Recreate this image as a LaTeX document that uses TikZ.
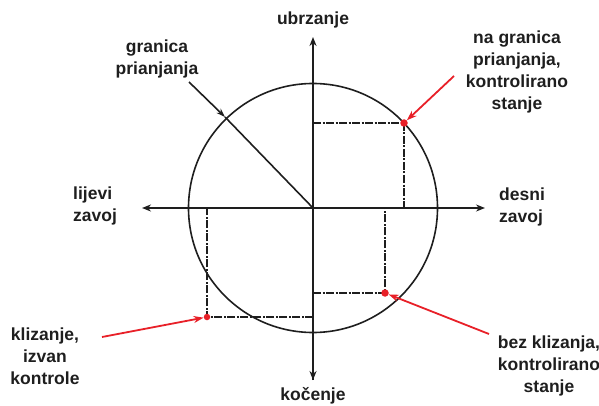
\documentclass[tikz,border=0pt]{standalone}
\usepackage{fontspec}
\setmainfont{Liberation Sans}
\usetikzlibrary{arrows.meta}
\definecolor{myred}{RGB}{232,32,40}
\definecolor{ink}{RGB}{30,30,30}
\begin{document}
\begin{tikzpicture}[x=1pt,y=-1pt,
  lbl/.style={font=\fontsize{17.5}{22}\selectfont\bfseries, text=ink, align=center, inner sep=0pt},
  axis/.style={draw=ink, line width=2pt, -{Stealth[length=9pt,width=7pt]}},
  dashln/.style={draw=ink, line width=2pt, dash pattern=on 8pt off 1.5pt on 2pt off 1.5pt},
  redarr/.style={draw=myred, line width=1.8pt, -{Stealth[length=10pt,width=7pt]}},
  reddot/.style={circle, fill=myred, inner sep=0pt, minimum size=7.5pt}]
\useasboundingbox (0,0) rectangle (599,406);
% coordinates
\coordinate (O) at (313,208);
\coordinate (top) at (313,37);
\coordinate (bot) at (313,380);
\coordinate (left) at (142,208);
\coordinate (right) at (485,208);
\coordinate (rim) at (225,117);
% circle
\draw[ink, line width=1.6pt] (O) circle (124.5);
% axes
\draw[axis] (bot) -- (top);
\draw[axis] (O) -- (bot);
\draw[axis] (O) -- (left);
\draw[axis] (O) -- (right);
% dashed boxes
\coordinate (p1) at (404,123);
\coordinate (p2) at (385,293);
\coordinate (p3) at (207,317);
\draw[dashln] (313,123) -- (p1) -- (404,208);
\draw[dashln] (313,293) -- (p2) -- (385,208);
\draw[dashln] (313,317) -- (p3) -- (207,208);
\node[reddot] (d1) at (p1) {};
\node[reddot] (d2) at (p2) {};
\node[reddot, minimum size=6.5pt] (d3) at (p3) {};
% radius line
\draw[ink, line width=1.6pt] (rim) -- (O);
% labels
\node[lbl] (ub) at (313,20) {ubrzanje};
\node[lbl] (ko) at (313,396) {kočenje};
\node[lbl] (gp) at (157,59) {granica\\prianjanja};
\node[lbl] (ng) at (517,72) {na granica\\prianjanja,\\kontrolirano\\stanje};
\node[lbl, align=left, anchor=west] (dz) at (499,207) {desni\\zavoj};
\node[lbl, align=left, anchor=west] (lz) at (73,206) {lijevi\\zavoj};
\node[lbl] (kl) at (45,356) {klizanje,\\izvan\\kontrole};
\node[lbl] (bk) at (549,366) {bez klizanja,\\kontrolirano\\stanje};
% pointer arrows
\coordinate (g0) at (189,82);
\draw[ink, line width=1.6pt, -{Stealth[length=9pt,width=6pt]}] (g0) -- (rim);
\coordinate (a1) at (454,76);
\coordinate (a2) at (489,334);
\coordinate (a3) at (102,337);
\draw[redarr] (a1) -- (d1);
\draw[redarr] (a2) -- (d2);
\draw[redarr] (a3) -- (d3);
\end{tikzpicture}
\end{document}
